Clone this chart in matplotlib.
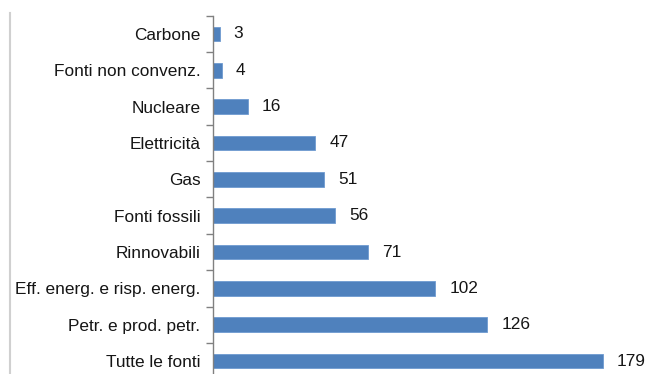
import numpy as np
import matplotlib.pyplot as plt
from matplotlib.lines import Line2D

categorie = ['Carbone', 'Fonti non convenz.', 'Nucleare', 'Elettricità', 'Gas',
             'Fonti fossili', 'Rinnovabili', 'Eff. energ. e risp. energ.',
             'Petr. e prod. petr.', 'Tutte le fonti']
valori = [3, 4, 16, 47, 51, 56, 71, 102, 126, 179]

plt.rcParams['font.family'] = ['Liberation Sans', 'DejaVu Sans']

fig = plt.figure(figsize=(6.49, 3.74), dpi=100)
ax = fig.add_axes([213 / 649, 1 - 379.2 / 374, (648.4 - 213) / 649, (379.2 - 15.8) / 374])

y = np.arange(len(categorie))
ax.barh(y, valori, height=0.4, color='#4f81bd', edgecolor='#6f9bd0', linewidth=0.6)
ax.set_ylim(len(categorie) - 0.5, -0.5)
ax.set_xlim(0, 200)

for yi, v in zip(y, valori):
    ax.text(v + 6.5, yi, str(v), va='center', ha='left', fontsize=12.4, color='#151515')

ax.set_yticks(y)
ax.set_yticklabels(categorie, fontsize=12.4, color='#151515')
ax.set_yticks(np.arange(-0.5, len(categorie) + 0.5, 1), minor=True)
ax.tick_params(axis='y', which='major', length=0, pad=9)
ax.tick_params(axis='y', which='minor', length=5, color='#808080', width=1)
ax.set_xticks([])

for s in ['top', 'right', 'bottom']:
    ax.spines[s].set_visible(False)
ax.spines['left'].set_color('#808080')
ax.spines['left'].set_linewidth(1)

fig.add_artist(Line2D([9.5 / 649, 9.5 / 649], [1 - 13 / 374, 0], transform=fig.transFigure,
                      color='#d0d0d0', linewidth=1.5))

fig.savefig('out.png', dpi=100)
